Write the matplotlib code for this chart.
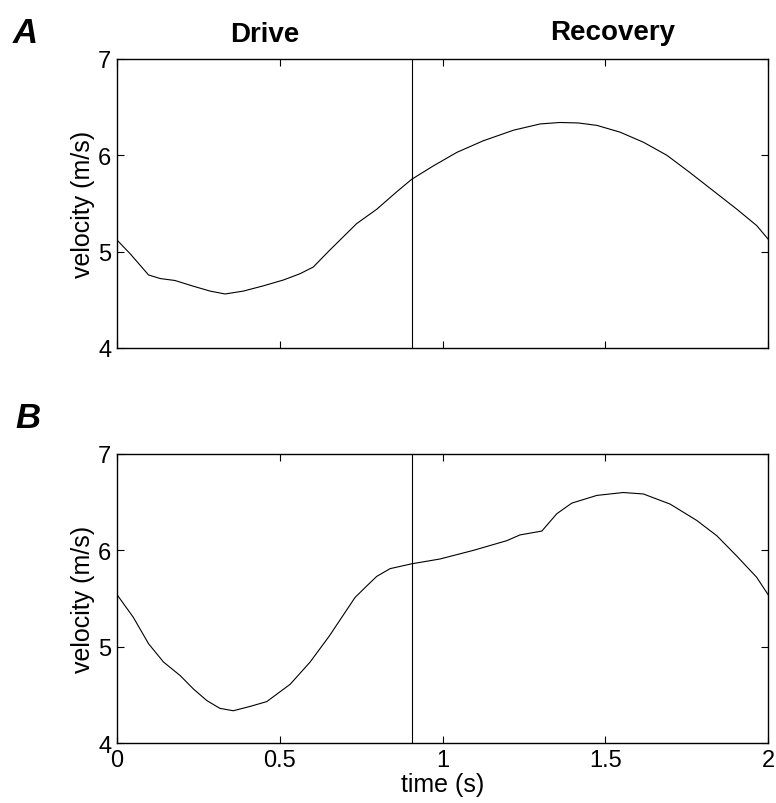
import numpy as np
import matplotlib.pyplot as plt

plt.rcParams['font.family'] = ['Liberation Sans', 'DejaVu Sans']

# panel A: velocity vs time
time_a = [0.0, 0.041, 0.097, 0.133, 0.178, 0.235, 0.286, 0.332, 0.388, 0.45,
          0.511, 0.562, 0.603, 0.652, 0.736, 0.798, 0.859, 0.905, 0.972, 1.044,
          1.125, 1.218, 1.30, 1.36, 1.417, 1.474, 1.545, 1.617, 1.689, 1.76,
          1.832, 1.904, 1.965, 2.0]
vel_a = [5.12, 4.975, 4.757, 4.72, 4.70, 4.64, 4.59, 4.56, 4.59, 4.645,
         4.705, 4.77, 4.84, 5.01, 5.29, 5.44, 5.62, 5.75, 5.89, 6.03,
         6.15, 6.26, 6.325, 6.34, 6.335, 6.31, 6.24, 6.135, 6.0, 5.82,
         5.63, 5.44, 5.27, 5.13]

# panel B
time_b = [0.0, 0.05, 0.097, 0.143, 0.194, 0.235, 0.276, 0.316, 0.357, 0.409,
          0.46, 0.532, 0.593, 0.652, 0.731, 0.767, 0.798, 0.839, 0.905, 0.992,
          1.095, 1.197, 1.238, 1.305, 1.351, 1.397, 1.474, 1.555, 1.617, 1.699,
          1.781, 1.843, 1.904, 1.965, 2.0]
vel_b = [5.54, 5.305, 5.03, 4.84, 4.70, 4.56, 4.44, 4.36, 4.335, 4.38,
         4.43, 4.61, 4.84, 5.11, 5.51, 5.63, 5.73, 5.81, 5.86, 5.91,
         6.00, 6.10, 6.16, 6.20, 6.38, 6.49, 6.57, 6.60, 6.585, 6.48,
         6.31, 6.15, 5.94, 5.72, 5.54]

t_split = 0.905
xticks = [0, 0.5, 1, 1.5, 2]
xtick_labels = ['0', '0.5', '1', '1.5', '2']
yticks = [4, 5, 6, 7]

fig = plt.figure(figsize=(7.76, 8.04), dpi=100)
ax_a = fig.add_axes([0.1508, 0.566, 0.839, 0.3595])
ax_b = fig.add_axes([0.1508, 0.0746, 0.839, 0.3595])

for ax, t, v in [(ax_a, time_a, vel_a), (ax_b, time_b, vel_b)]:
    ax.plot(t, v, color='black', lw=0.8)
    ax.axvline(t_split, color='black', lw=0.8)
    ax.set_xlim(0, 2)
    ax.set_ylim(4, 7)
    ax.set_xticks(xticks)
    ax.set_yticks(yticks)
    ax.tick_params(direction='in', top=True, right=True, length=5, width=0.8,
                   labelsize=17, pad=4)
    ax.set_ylabel('velocity (m/s)', fontsize=18, labelpad=2)
    for s in ax.spines.values():
        s.set_linewidth(1.0)

ax_a.set_xticklabels([])
ax_b.set_xticklabels(xtick_labels)
ax_b.set_xlabel('time (s)', fontsize=18, labelpad=1)

fig.text(265 / 776, 1 - 35 / 804, 'Drive', fontsize=20, fontweight='bold',
         ha='center', va='center')
fig.text(613 / 776, 1 - 33 / 804, 'Recovery', fontsize=20, fontweight='bold',
         ha='center', va='center')
fig.text(13 / 776, 1 - 43 / 804, 'A', fontsize=25, fontweight='bold',
         fontstyle='italic', ha='left', va='baseline')
fig.text(15 / 776, 1 - 428 / 804, 'B', fontsize=25, fontweight='bold',
         fontstyle='italic', ha='left', va='baseline')

fig.savefig('out.png', dpi=100)
